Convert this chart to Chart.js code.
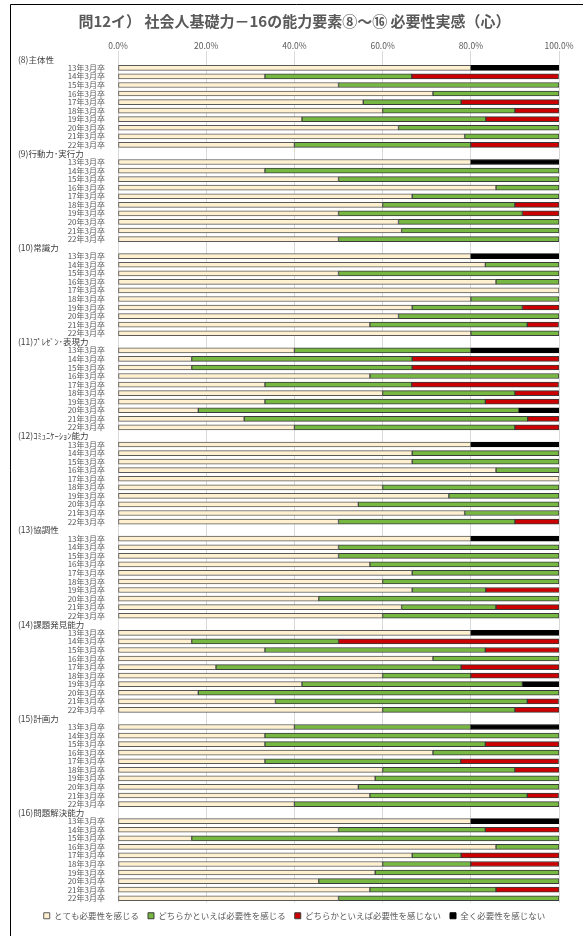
<!DOCTYPE html>
<html>
<head>
<meta charset="utf-8">
<script src="https://cdn.jsdelivr.net/npm/chart.js@4/dist/chart.umd.min.js"></script>
<style>
  html, body { margin: 0; padding: 0; background: #fff; }
  #wrap { position: relative; width: 583px; height: 936px; }
</style>
</head>
<body>
<div id="wrap"><canvas id="myChart"></canvas></div>
<script>
// group headings (one extra row per group)
const groupNames = ['(8)主体性', '(9)行動力･実行力', '(10)常識力', '(11)ﾌﾟﾚｾﾞﾝ･表現力',
    '(12)ｺﾐｭﾆｹｰｼｮﾝ能力', '(13)協調性', '(14)課題発見能力', '(15)計画力', '(16)問題解決能力'];
const yearLabels = ['13年3月卒', '14年3月卒', '15年3月卒', '16年3月卒', '17年3月卒',
    '18年3月卒', '19年3月卒', '20年3月卒', '21年3月卒', '22年3月卒'];
const seriesNames = ['とても必要性を感じる', 'どちらかといえば必要性を感じる',
    'どちらかといえば必要性を感じない', '全く必要性を感じない'];
const xTicks = [0, 20, 40, 60, 80, 100];

// % per year, one inner array per group
const veryNeed = [
    [80, 33.3, 50, 71.4, 55.6, 60, 41.7, 63.6, 78.6, 40],
    [80, 33.3, 50, 85.7, 66.7, 60, 50, 63.6, 64.3, 50],
    [80, 83.3, 50, 85.7, 100, 80, 66.7, 63.6, 57.1, 80],
    [40, 16.7, 16.7, 57.1, 33.3, 60, 33.3, 18.2, 28.6, 40],
    [80, 66.7, 66.7, 85.7, 100, 60, 75, 54.5, 78.6, 50],
    [80, 50, 50, 57.1, 66.7, 60, 66.7, 45.5, 64.3, 60],
    [80, 16.7, 33.3, 71.4, 22.2, 60, 41.7, 18.2, 35.7, 60],
    [40, 33.3, 33.3, 71.4, 33.3, 60, 58.3, 54.5, 57.1, 40],
    [80, 50, 16.7, 85.7, 66.7, 60, 58.3, 45.5, 57.1, 50]
];
const ratherNeed = [
    [0, 33.3, 50, 28.6, 22.2, 30, 41.7, 36.4, 21.4, 40],
    [0, 66.7, 50, 14.3, 33.3, 30, 41.7, 36.4, 35.7, 50],
    [0, 16.7, 50, 14.3, 0, 20, 25, 36.4, 35.7, 20],
    [40, 50, 50, 42.9, 33.3, 30, 50, 72.7, 64.3, 50],
    [0, 33.3, 33.3, 14.3, 0, 40, 25, 45.5, 21.4, 40],
    [0, 50, 50, 42.9, 33.3, 40, 16.7, 54.5, 21.4, 40],
    [0, 33.3, 50, 28.6, 55.6, 20, 50, 81.8, 57.1, 30],
    [40, 66.7, 50, 28.6, 44.4, 30, 41.7, 45.5, 35.7, 60],
    [0, 33.3, 83.3, 14.3, 11.1, 20, 41.7, 54.5, 28.6, 50]
];
const ratherNotNeed = [
    [0, 33.3, 0, 0, 22.2, 10, 16.7, 0, 0, 20],
    [0, 0, 0, 0, 0, 10, 8.3, 0, 0, 0],
    [0, 0, 0, 0, 0, 0, 8.3, 0, 7.1, 0],
    [0, 33.3, 33.3, 0, 33.3, 10, 16.7, 0, 7.1, 10],
    [0, 0, 0, 0, 0, 0, 0, 0, 0, 10],
    [0, 0, 0, 0, 0, 0, 16.7, 0, 14.3, 0],
    [0, 50, 16.7, 0, 22.2, 20, 0, 0, 7.1, 10],
    [0, 0, 16.7, 0, 22.2, 10, 0, 0, 7.1, 0],
    [0, 16.7, 0, 0, 22.2, 20, 0, 0, 14.3, 0]
];
const notAtAll = [
    [20, 0, 0, 0, 0, 0, 0, 0, 0, 0],
    [20, 0, 0, 0, 0, 0, 0, 0, 0, 0],
    [20, 0, 0, 0, 0, 0, 0, 0, 0, 0],
    [20, 0, 0, 0, 0, 0, 0, 9.1, 0, 0],
    [20, 0, 0, 0, 0, 0, 0, 0, 0, 0],
    [20, 0, 0, 0, 0, 0, 0, 0, 0, 0],
    [20, 0, 0, 0, 0, 0, 8.3, 0, 0, 0],
    [20, 0, 0, 0, 0, 0, 0, 0, 0, 0],
    [20, 0, 0, 0, 0, 0, 0, 0, 0, 0]
];

const FONT = "'Noto Sans CJK JP', 'Noto Sans', sans-serif";

// flatten: each group gets an empty heading row first
const labels = [];
const headerRows = [];
groupNames.forEach(function (g) {
    headerRows.push(labels.length);
    labels.push(g);
    yearLabels.forEach(function (y) { labels.push(y); });
});
function flat(series) {
    const out = [];
    series.forEach(function (grp) {
        out.push(null);
        grp.forEach(function (v) { out.push(v); });
    });
    return out;
}

const fills = ['#FFF1D0', '#77B843', '#CC0000', '#000000'];
const borders = ['#595959', '#3A3A3A', '#3A3A3A', '#000000'];
const allSeries = [veryNeed, ratherNeed, ratherNotNeed, notAtAll];

// frame + headings
const framePlugin = {
    id: 'frame',
    beforeDraw(chart) {
        const c = chart.ctx;
        c.save();
        c.fillStyle = '#fff';
        c.fillRect(0, 0, chart.width, chart.height);
        c.strokeStyle = '#000';
        c.lineWidth = 1;
        c.beginPath();
        c.moveTo(10.5, chart.height);
        c.lineTo(10.5, 4.5);
        c.lineTo(chart.width, 4.5);
        c.stroke();
        c.restore();
    },
    afterDraw(chart) {
        const c = chart.ctx;
        const ys = chart.scales.y;
        c.save();
        c.font = '8.5px ' + FONT;
        c.fillStyle = '#404040';
        c.textAlign = 'left';
        c.textBaseline = 'middle';
        headerRows.forEach(function (idx) {
            c.fillText(labels[idx], 18, ys.getPixelForValue(idx));
        });
        c.restore();
    }
};

const ctx = document.getElementById('myChart');
const myChart = new Chart(ctx, {
    type: 'bar',
    data: {
        labels: labels,
        datasets: allSeries.map(function (s, i) {
            return {
                label: seriesNames[i],
                data: flat(s),
                backgroundColor: fills[i],
                borderColor: borders[i],
                borderWidth: 1,
                borderSkipped: false,
                barThickness: 5
            };
        })
    },
    options: {
        indexAxis: 'y',
        responsive: true,
        maintainAspectRatio: false,
        animation: false,
        layout: {
            padding: { left: 30, right: 24, top: 10, bottom: 6 }
        },
        scales: {
            x: {
                position: 'top',
                stacked: true,
                min: 0,
                max: 100,
                afterBuildTicks(s) {
                    s.ticks = xTicks.map(function (v) { return { value: v }; });
                },
                afterFit(s) { s.height = 14; },
                ticks: {
                    color: '#595959',
                    padding: 0,
                    font: { family: FONT, size: 8.5 },
                    callback: function (v) { return Number(v).toFixed(1) + '%'; }
                },
                grid: {
                    color: '#D9D9D9',
                    tickLength: 4
                },
                border: { display: false }
            },
            y: {
                stacked: true,
                afterFit(s) { s.width = 88; },
                ticks: {
                    color: '#595959',
                    padding: 5,
                    autoSkip: false,
                    font: { family: FONT, size: 8 },
                    callback: function (v, i) {
                        return headerRows.indexOf(i) >= 0 ? '' : labels[i];
                    }
                },
                grid: { display: false },
                border: { display: false }
            }
        },
        plugins: {
            title: {
                display: true,
                text: '問12イ） 社会人基礎力－16の能力要素⑧～⑯ 必要性実感（心）',
                color: '#595959',
                font: { family: FONT, size: 15, weight: 'bold' },
                padding: { top: 2, bottom: 11 }
            },
            legend: {
                position: 'bottom',
                labels: {
                    color: '#595959',
                    boxWidth: 6,
                    boxHeight: 6,
                    padding: 9,
                    font: { family: FONT, size: 8.5 }
                }
            },
            tooltip: { enabled: false }
        }
    },
    plugins: [framePlugin]
});
</script>
</body>
</html>
